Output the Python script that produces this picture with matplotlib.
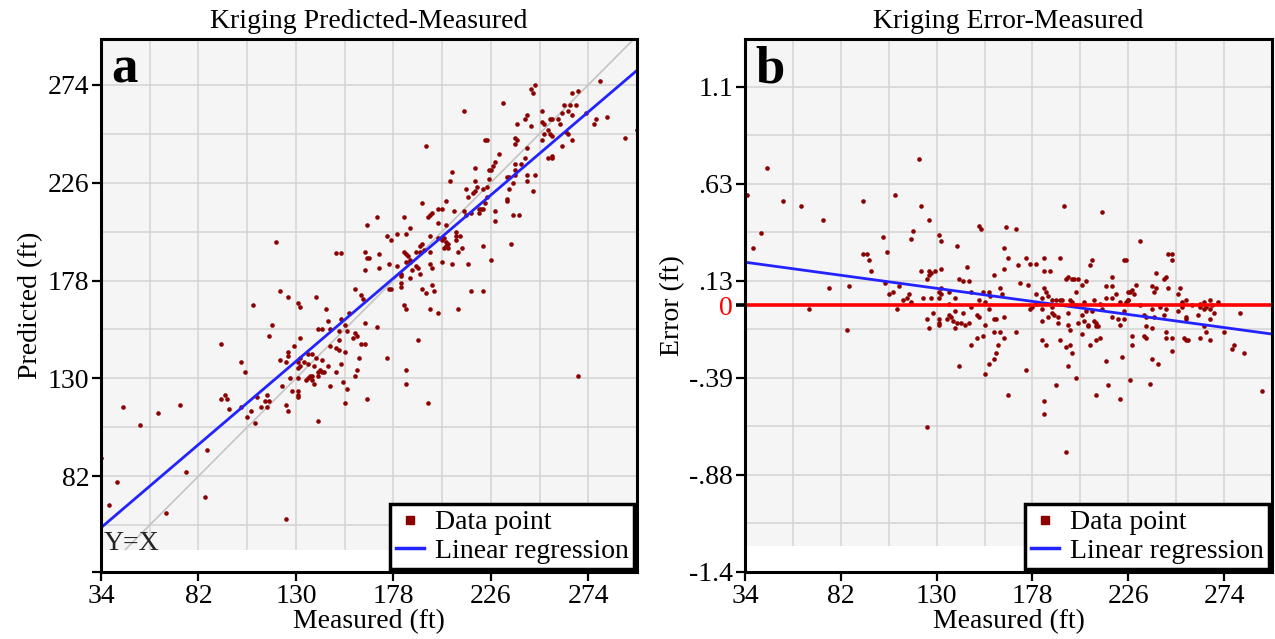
import numpy as np
import matplotlib.pyplot as plt
from matplotlib.lines import Line2D

plt.rcParams['font.family'] = ['Liberation Serif', 'DejaVu Serif']

a_measured = [
    120, 150, 152, 165, 164, 165, 164, 122, 126, 131,
    132, 140, 145, 109, 159, 162, 163, 280, 248, 246,
    247, 266, 269, 232, 213, 262, 265, 268, 261, 264,
    266, 273, 278, 283, 277, 244, 243, 239, 246, 251,
    251, 252, 255, 256, 259, 260, 254, 255, 256, 252,
    263, 264, 266, 261, 251, 224, 223, 238, 239, 238,
    244, 194, 230, 254, 256, 256, 243, 241, 238, 228,
    227, 226, 225, 218, 207, 244, 248, 244, 238, 238,
    234, 235, 225, 237, 218, 219, 222, 224, 206, 214,
    218, 217, 215, 235, 247, 234, 234, 224, 223, 221,
    222, 204, 192, 202, 200, 197, 196, 195, 208, 213,
    214, 216, 220, 220, 228, 237, 240, 228, 183, 170,
    200, 204, 186, 184, 180, 175, 177, 196, 200, 202,
    203, 204, 205, 205, 203, 204, 209, 209, 209, 211,
    192, 191, 193, 191, 189, 183, 184, 185, 186, 184,
    186, 212, 210, 222, 236, 226, 215, 207, 202, 196,
    196, 197, 171, 171, 176, 180, 182, 182, 182, 187,
    189, 190, 191, 182, 186, 176, 177, 192, 194, 197,
    198, 216, 222, 183, 184, 196, 210, 166, 292, 298,
    118, 117, 146, 141, 143, 147, 151, 155, 152, 156,
    154, 164, 159, 160, 158, 162, 164, 132, 129, 126,
    126, 122, 125, 132, 131, 132, 131, 134, 136, 138,
    136, 140, 143, 146, 139, 147, 150, 151, 154, 151,
    152, 150, 153, 155, 159, 160, 161, 165, 154, 141,
    143, 142, 144, 137, 138, 136, 138, 135, 141, 139,
    127, 131, 123, 128, 131, 131, 131, 147, 125, 126,
    141, 125, 103, 105, 93, 93, 95, 96, 97, 103,
    106, 108, 110, 111, 113, 115, 116, 116, 117, 45,
    62, 73, 53, 86, 76, 85, 66, 42, 38, 34,
    200, 170, 190, 175, 184, 184, 195, 269,
]
a_predicted = [
    197, 191.5, 191.5, 205, 192, 189, 183, 173, 170, 167,
    165, 170, 164, 166, 174, 171, 169, 276, 274, 272,
    270, 270, 271, 265, 261, 264, 264, 264, 260, 261,
    259, 260, 257, 258, 255, 259, 257, 255, 254, 261,
    256, 255, 257, 257, 257, 255, 252, 250, 249, 250,
    251, 250, 247, 244, 247, 247, 247, 248, 247, 245,
    243, 244, 240, 238, 238, 239, 238, 235, 235, 236,
    234, 232, 232, 233, 231, 230, 230, 227, 232, 230,
    229, 229, 228, 226, 227, 224, 223, 224, 227, 223,
    222, 221, 219, 223, 222, 218, 217, 219, 216, 213,
    213, 217, 216, 213, 213, 211, 210, 209, 212, 212,
    210, 211, 211, 213, 212, 210, 210, 207, 209, 209,
    206, 205, 204, 201, 201, 200, 198, 200, 199, 198,
    199, 197, 196, 194, 194, 195, 202, 200, 198, 200,
    196, 195, 193, 192, 192, 192, 191, 190, 188, 187,
    187, 194, 192, 195, 196, 188, 186, 186, 187, 192,
    186, 184, 191, 184, 186, 185, 181, 180, 177, 183,
    185, 184, 181, 175, 179, 174, 174, 174, 172, 176,
    173, 173, 173, 166, 164, 164, 164, 189, 248, 252,
    156, 151, 158, 154, 154, 154, 153, 153, 159, 162,
    156, 157, 152, 151, 150, 147, 147, 150, 146, 143,
    141, 139, 138, 140, 138, 136, 135, 138, 142, 142,
    137, 140, 139, 136, 136, 146, 145, 144, 143, 149,
    137, 133, 128, 125, 131, 134, 140, 120, 118, 133,
    133, 134, 133, 131, 131, 130, 129, 129, 131, 127,
    130, 130, 126, 124, 124, 122, 121, 126, 117, 114,
    109, 61, 138, 133, 147, 120, 122, 120, 115, 116,
    111, 114, 108, 121, 116, 119, 122, 116, 119, 116,
    113, 117, 107, 95, 84, 72, 64, 79, 68, 91,
    162, 155, 149, 140, 134, 127, 118, 131,
]

# datos del panel b (medido vs error)
b_measured = [
    45, 121, 53, 62, 73, 42, 38, 35, 93, 109,
    122, 126, 103, 105, 117, 118, 93, 95, 96, 97,
    76, 86, 104, 106, 108, 111, 116, 115, 113, 117,
    122, 126, 126, 125, 127, 129, 132, 123, 127, 131,
    132, 132, 131, 132, 131, 136, 139, 136, 140, 141,
    143, 146, 145, 151, 152, 147, 151, 154, 153, 156,
    157, 159, 164, 164, 166, 165, 162, 163, 170, 175,
    171, 177, 180, 184, 184, 187, 192, 194, 213, 232,
    172, 176, 180, 183, 184, 185, 186, 188, 190, 192,
    193, 197, 198, 195, 196, 198, 199, 201, 203, 205,
    200, 207, 208, 204, 209, 215, 218, 218, 215, 218,
    220, 222, 224, 225, 226, 227, 228, 229, 226, 230,
    238, 239, 240, 240, 244, 245, 246, 248, 248, 246,
    251, 252, 253, 255, 264, 267, 271, 66, 85, 110,
    125, 126, 128, 131, 131, 131, 135, 136, 137, 138,
    139, 139, 140, 142, 143, 144, 146, 147, 150, 151,
    154, 156, 159, 160, 159, 162, 164, 150, 153, 164,
    147, 161, 160, 159, 156, 154, 141, 166, 125, 170,
    175, 177, 178, 183, 183, 183, 185, 186, 188, 189,
    191, 191, 192, 195, 197, 196, 198, 196, 197, 196,
    190, 184, 184, 195, 200, 201, 203, 204, 206, 206,
    207, 209, 210, 210, 211, 210, 212, 203, 205, 208,
    213, 215, 210, 216, 222, 223, 218, 221, 222, 224,
    224, 225, 226, 228, 228, 227, 234, 235, 234, 235,
    235, 238, 238, 239, 238, 241, 237, 244, 245, 245,
    245, 248, 248, 251, 253, 253, 255, 255, 254, 255,
    256, 261, 262, 264, 265, 267, 267, 269, 264, 265,
    262, 267, 274, 282, 279, 278, 284, 293, 180, 188,
    200, 212, 232, 242, 258, 262, 268,
]
b_error = [
    .72, .77, .55, .52, .45, .38, .30, .58, .55, .58,
    .52, .45, .36, .28, .35, .39, .27, .27, .24, .18,
    .09, .10, .12, .06, .07, .10, .06, .04, .03, .02,
    .18, .18, .16, .14, .17, .18, .19, .04, .04, .37,
    .34, .09, .07, .06, .04, .07, .04, .01, .31, .14,
    .13, .13, .20, .42, .40, .07, .03, .02, .07, .07,
    .05, .16, .19, .30, .25, .41, .09, .06, .40, .25,
    .21, .22, .22, .25, .18, .18, .25, .52, .49, .34,
    .12, .11, .06, .04, .09, .07, .05, .03, .03, .03,
    .03, .03, .02, .14, .15, .14, .14, .14, .11, .13,
    .07, .21, .24, .02, .03, .10, .15, .10, .04, .04,
    .06, .02, .24, .24, .07, .07, .08, .06, .03, .11,
    .10, .07, .09, .17, .14, .15, .27, .27, .24, .09,
    .06, .09, .02, .03, .02, .03, .02, -.02, -.13, -.02,
    -.07, -.12, -.04, -.07, -.09, -.10, -.07, -.05, -.06, -.08,
    -.03, -.12, -.09, -.09, -.04, -.10, -.09, -.01, -.05, -.06,
    -.10, -.02, -.07, -.07, -.14, -.14, -.17, -.17, -.16, -.06,
    -.21, -.21, -.25, -.28, -.31, -.36, -.32, -.47, -.64, -.14,
    -.34, -.02, -.01, -.02, -.08, -.18, -.21, -.06, -.04, -.05,
    -.06, -.09, -.18, -.22, -.21, -.32, -.25, -.10, -.13, -.04,
    -.42, -.50, -.57, -.77, -.38, -.09, -.15, -.08, -.10, -.11,
    -.21, -.08, -.09, -.11, -.11, -.18, -.17, -.05, -.03, -.03,
    -.02, -.29, -.47, -.42, -.49, -.27, -.06, -.07, -.10, -.07,
    -.03, .02, .03, -.16, -.21, -.39, -.05, -.06, -.16, -.17,
    -.11, -.02, -.12, -.06, -.28, -.31, -.41, -.05, -.02, -.14,
    -.17, -.17, -.24, -.03, -.01, .01, -.06, -.07, -.17, -.18,
    -.18, -.05, -.01, -.02, -.01, -.02, -.07, -.04, -.11, -.14,
    -.17, -.18, -.14, -.04, -.21, -.23, -.25, -.45, .01, -.01,
    .00, .01, .00, -.01, .00, .01, .00,
]

# rectas de regresion
a_slope, a_intercept = 0.85, 27.8
b_slope, b_intercept = -0.00143, 0.276

x_ticks = [34, 82, 130, 178, 226, 274]
x_tick_labels = ['34', '82', '130', '178', '226', '274']
a_y_ticks = [35, 82, 130, 178, 226, 274]
a_y_tick_labels = ['', '82', '130', '178', '226', '274']
b_y_ticks = [-1.40, -0.89, -0.38, 0, 0.13, 0.64, 1.15]
b_y_tick_labels = ['-1.4', '-.88', '-.39', '0', '.13', '.63', '1.1']

color_punto = '#8b0000'
color_azul = '#2323ff'
color_rejilla = '#d4d4d4'
fs = 20


def preparar_panel(ax, xlim, ylim, y_gris, ygrid):
    # fondo gris que no llega hasta abajo, igual que el original
    ax.set_xlim(xlim)
    ax.set_ylim(ylim)
    ax.axhspan(y_gris, ylim[1], color='#f5f5f5', lw=0, zorder=0)
    xgrid = np.arange(58, 298, 24)
    ax.vlines(xgrid, y_gris, ylim[1], color=color_rejilla, lw=1.1, zorder=1)
    ax.hlines(ygrid, xlim[0], xlim[1], color=color_rejilla, lw=1.1, zorder=1)
    for s in ax.spines.values():
        s.set_linewidth(2.2)
        s.set_zorder(8)
    ax.set_xticks(x_ticks)
    ax.set_xticklabels(x_tick_labels)
    ax.tick_params(direction='out', length=6.5, width=1.6, labelsize=fs, pad=2)
    ax.set_xlabel('Measured (ft)', fontsize=fs, labelpad=0)


def poner_leyenda(ax):
    handles = [Line2D([], [], marker='s', ls='none', color=color_punto, ms=6),
               Line2D([], [], color=color_azul, lw=2.5)]
    leg = ax.legend(handles, ['Data point', 'Linear regression'], loc='lower right',
                    borderaxespad=0.1, fancybox=False, framealpha=1, edgecolor='black',
                    fontsize=fs, handlelength=1.0, handletextpad=0.4, borderpad=0.2,
                    labelspacing=0.1)
    leg.get_frame().set_linewidth(2.5)
    leg.set_zorder(9)


fig = plt.figure(figsize=(12.75, 6.39), dpi=100)
ax_a = fig.add_axes([0.0792, 0.1049, 0.4204, 0.8341])
ax_b = fig.add_axes([0.5843, 0.1049, 0.4133, 0.8341])

# panel a
preparar_panel(ax_a, (34, 298), (35, 296.5), 46, np.arange(58, 297, 24))
ax_a.set_yticks(a_y_ticks)
ax_a.set_yticklabels(a_y_tick_labels)
ax_a.plot([46, 298], [46, 298], color='#c4c4c4', lw=1.2, zorder=2)
ax_a.plot(a_measured, a_predicted, 'o', color=color_punto, ms=3.3, mew=0, zorder=3)
xr = np.array([34, 298])
ax_a.plot(xr, a_slope * xr + a_intercept, color=color_azul, lw=2, zorder=4)
ax_a.text(35.5, 46, 'Y=X', fontsize=fs, va='baseline', color='#222222', zorder=5)
ax_a.text(0.02, 0.918, 'a', transform=ax_a.transAxes, fontsize=38, fontweight='bold',
          va='baseline')
ax_a.set_title('Kriging Predicted-Measured', fontsize=fs, pad=8)
ax_a.set_ylabel('Predicted (ft)', fontsize=fs, labelpad=3)
poner_leyenda(ax_a)

# panel b
preparar_panel(ax_b, (34, 298), (-1.40, 1.40), -1.266, np.arange(-1.145, 1.40, 0.255))
ax_b.set_yticks(b_y_ticks)
ax_b.set_yticklabels(b_y_tick_labels)
ax_b.axhline(0, color='red', lw=2.6, zorder=5)
ax_b.plot(b_measured, b_error, 'o', color=color_punto, ms=3.3, mew=0, zorder=3)
ax_b.plot(xr, b_slope * xr + b_intercept, color=color_azul, lw=2, zorder=4)
cero = b_y_ticks.index(0)
ax_b.get_yticklabels()[cero].set_color('red')
ax_b.yaxis.get_major_ticks()[cero].tick1line.set_color('red')
ax_b.yaxis.get_major_ticks()[cero].tick1line.set_markeredgewidth(2.6)
ax_b.text(0.02, 0.918, 'b', transform=ax_b.transAxes, fontsize=38, fontweight='bold',
          va='baseline')
ax_b.set_title('Kriging Error-Measured', fontsize=fs, pad=8)
ax_b.set_ylabel('Error (ft)', fontsize=fs, labelpad=3)
poner_leyenda(ax_b)

fig.savefig('out.png', dpi=100)
